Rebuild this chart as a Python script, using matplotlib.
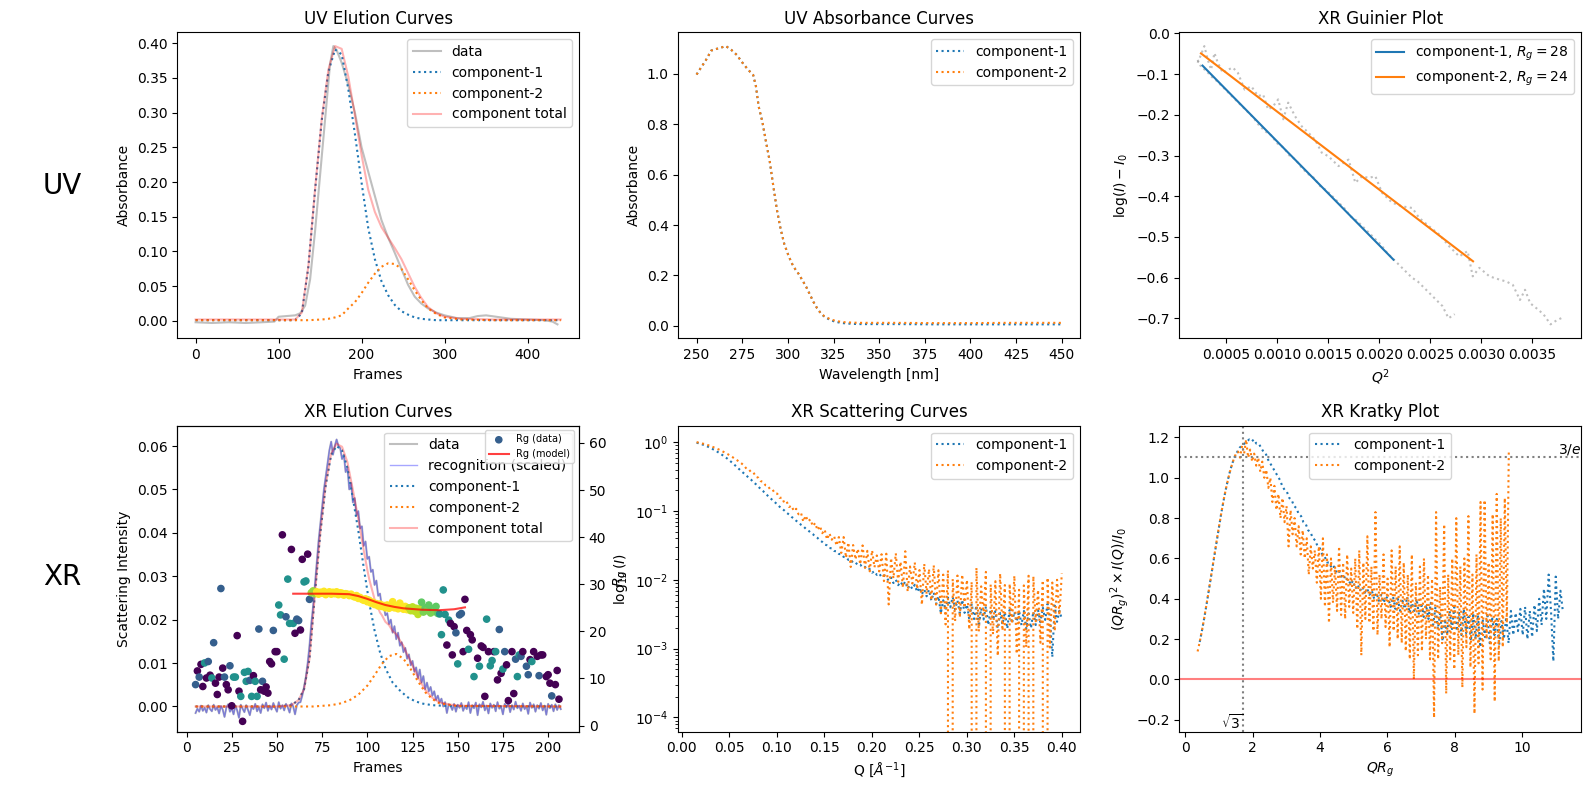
import numpy as np
import matplotlib
matplotlib.use("Agg")
import matplotlib.pyplot as plt

# ---------------- UV elution ----------------
uv_frames = [0, 20, 40, 60, 80, 95, 100, 110, 120, 126, 132, 138, 144, 150, 156, 162, 166, 170,
             176, 184, 192, 200, 208, 216, 224, 232, 240, 248, 256, 264, 272, 280, 290, 300,
             315, 330, 340, 350, 362, 380, 400, 420, 430, 436]
uv_data = [-0.002, -0.003, -0.002, -0.003, -0.002, -0.001, 0.006, 0.007, 0.008, 0.011, 0.022,
           0.06, 0.13, 0.21, 0.29, 0.37, 0.396, 0.39, 0.372, 0.34, 0.30, 0.25, 0.215, 0.18,
           0.145, 0.12, 0.098, 0.075, 0.052, 0.035, 0.025, 0.018, 0.012, 0.008, 0.004, 0.004,
           0.007, 0.008, 0.006, 0.003, 0.002, 0.001, -0.001, -0.005]
uv_comp_frames = [0, 100, 120, 128, 136, 144, 152, 160, 168, 176, 184, 192, 200, 208, 216,
                  224, 232, 240, 248, 256, 264, 272, 280, 290, 300, 320, 360, 440]
uv_comp1 = [0.001, 0.001, 0.001, 0.011, 0.079, 0.189, 0.289, 0.359, 0.391, 0.384, 0.334,
            0.269, 0.199, 0.134, 0.089, 0.057, 0.037, 0.023, 0.014, 0.009, 0.005, 0.003,
            0.002, 0.001, 0.001, 0.001, 0.001, 0.001]
uv_comp2 = [0.001, 0.001, 0.001, 0.001, 0.001, 0.0015, 0.002, 0.003, 0.005, 0.008, 0.018,
            0.027, 0.04, 0.055, 0.068, 0.078, 0.083, 0.082, 0.075, 0.06, 0.044, 0.03,
            0.018, 0.01, 0.005, 0.002, 0.001, 0.001]

# ---------------- UV absorbance ----------------
wavelength = [250, 252, 255, 258, 260, 263, 266, 269, 272, 275, 278, 281, 282.5, 284, 286,
              288, 290, 292, 294, 296, 298, 300, 302, 304, 306, 308, 310, 312, 314, 316, 318,
              320, 323, 326, 330, 335, 340, 350, 360, 380, 400, 420, 450]
abs_comp1 = [0.997, 1.02, 1.053, 1.092, 1.097, 1.103, 1.11, 1.095, 1.075, 1.045, 1.018,
             0.995, 0.95, 0.87, 0.81, 0.73, 0.655, 0.555, 0.46, 0.385, 0.325, 0.285, 0.25,
             0.225, 0.205, 0.18, 0.155, 0.125, 0.095, 0.07, 0.05, 0.036, 0.024, 0.016, 0.011,
             0.008, 0.007, 0.007, 0.007, 0.006, 0.006, 0.006, 0.006]
abs_comp2 = [0.997, 1.02, 1.053, 1.092, 1.097, 1.103, 1.11, 1.095, 1.075, 1.045, 1.018,
             0.995, 0.95, 0.87, 0.81, 0.73, 0.655, 0.555, 0.46, 0.385, 0.325, 0.285, 0.25,
             0.225, 0.205, 0.18, 0.155, 0.125, 0.095, 0.07, 0.05, 0.038, 0.027, 0.02, 0.015,
             0.013, 0.012, 0.012, 0.012, 0.011, 0.011, 0.012, 0.012]

# ---------------- XR Guinier ----------------
guinier_q2_a = [0.00022, 0.00026, 0.0003, 0.00035, 0.0004, 0.00046, 0.00052, 0.00058, 0.00064,
                0.0007, 0.00076, 0.00082, 0.00088, 0.00094, 0.001, 0.00106, 0.00112, 0.00118,
                0.00124, 0.0013, 0.00136, 0.00142, 0.00148, 0.00154, 0.0016, 0.00166, 0.00172,
                0.00178, 0.00184, 0.0019, 0.00196, 0.00202, 0.00208, 0.00214, 0.0022, 0.00226,
                0.00232, 0.00238, 0.00244, 0.0025, 0.00256, 0.00262, 0.00268, 0.00274]
guinier_y_a = [-0.065, -0.085, -0.09, -0.105, -0.115, -0.13, -0.145, -0.16, -0.175, -0.19,
               -0.205, -0.225, -0.24, -0.25, -0.27, -0.28, -0.3, -0.31, -0.33, -0.345, -0.355,
               -0.375, -0.385, -0.4, -0.415, -0.43, -0.45, -0.46, -0.475, -0.49, -0.505, -0.52,
               -0.54, -0.555, -0.57, -0.585, -0.6, -0.61, -0.625, -0.64, -0.655, -0.67, -0.70,
               -0.69]
guinier_q2_b = [0.00022, 0.000254, 0.000286, 0.000319, 0.000352, 0.000385, 0.000418, 0.000467,
                0.000517, 0.000566, 0.000615, 0.000681, 0.000747, 0.000813, 0.000862, 0.000911,
                0.00096, 0.00101, 0.001059, 0.001108, 0.001174, 0.00124, 0.001306, 0.001371,
                0.001437, 0.001503, 0.001601, 0.0017, 0.001766, 0.001832, 0.001897, 0.001963,
                0.002029, 0.002127, 0.002226, 0.002325, 0.002391, 0.002489, 0.002588, 0.002686,
                0.002785, 0.002867, 0.002917, 0.002982, 0.003081, 0.00318, 0.00325, 0.00331,
                0.00338, 0.00343, 0.00348, 0.00354, 0.00361, 0.00368, 0.00374, 0.0038]
guinier_y_b = [-0.072, -0.052, -0.031, -0.064, -0.089, -0.048, -0.072, -0.097, -0.089, -0.084,
               -0.097, -0.138, -0.13, -0.154, -0.15, -0.187, -0.179, -0.162, -0.211, -0.17,
               -0.203, -0.228, -0.244, -0.261, -0.293, -0.302, -0.326, -0.31, -0.367, -0.351,
               -0.355, -0.351, -0.392, -0.416, -0.425, -0.429, -0.453, -0.474, -0.494, -0.523,
               -0.548, -0.535, -0.597, -0.576, -0.597, -0.605, -0.61, -0.618, -0.655, -0.63,
               -0.663, -0.675, -0.69, -0.715, -0.705, -0.698]
fit1_q2 = [0.000268, 0.00214]
fit1_y = [-0.079, -0.556]
fit2_q2 = [0.000253, 0.00292]
fit2_y = [-0.049, -0.56]
rg1, rg2 = 28, 24

# ---------------- XR elution ----------------
xr_data = [  # x 1e-3, frames 5..207
    -1.5, -0.5, -1.2, 0.2, -1.0, -0.3, -1.4, 0.3, -0.6, -1.1,
    0.4, -0.8, -0.2, -1.6, 0.1, -0.7, -2.4, -0.3, 0.5, -1.2,
    -0.4, -1.8, 0.2, -0.9, -2.6, 0.4, -0.5, -1.3, 0.3, -0.8,
    -2.0, 0.0, -0.6, 0.6, -1.1, -0.2, -1.5, 0.5, -0.4, 0.9,
    -1.0, 0.2, -0.7, 0.8, -0.3, -1.2, 1.0, -0.5, 0.3, -0.9,
    0.6, -0.2, -1.4, 0.7, 0.0, -1.8, 0.3, 0.9,
    1.0, 2.5, 4.5, 6.8, 10, 14, 19, 23, 28, 33,
    38, 42, 46, 50, 53, 56, 59, 61, 58, 60,
    61.5, 60, 59.5, 57, 58, 54, 55, 50, 51.5, 47,
    48, 44, 45, 41, 41.5, 37, 38, 34, 34.5, 31,
    31.5, 28, 29, 25.5, 26, 23, 23.5, 21, 21.5, 19,
    20, 17, 18.5, 15.5, 17, 14, 14.8, 12.5, 13.5, 11,
    12, 9.5, 10.5, 8, 9, 6.5, 8.5, 5.5, 7, 4,
    5.5, 3.5, 4.5, 2.5, 3.5, 1.5, 2.5, 1, 1.8, 0,
    1, -1.5, 0.5,
    0.2, -0.8, 0.6, -1.2, 0.4, -0.3, 0.8, -1.0, 0.1, -0.6,
    1.0, -1.5, 0.3, -0.4, 0.9, -2.0, 0.5, -0.2, 1.1, -0.9,
    0.2, -1.6, 0.7, -0.3, 0.4, -1.1, 1.0, -0.5, 0.0, -1.8,
    0.6, -0.2, 0.8, -1.3, 0.3, -0.7, 1.1, -0.4, 0.2, -1.0,
    0.7, -0.6, 0.1, -1.7, 0.9, -0.3, 0.5, -1.2, 0.3, -0.5,
    0.8, -0.9, 0.2, -1.9, 0.6, -0.4, 0.4, -1.1, 0.5, -0.8,
    0.3, -0.6]
xr_c1_frames = [5, 50, 58, 62, 65, 68, 71, 74, 77, 80, 83, 86, 89, 92, 95, 98, 101, 104, 107,
                110, 114, 118, 122, 126, 130, 136, 145, 207]
xr_c1 = [0, 0, 0.0003, 0.0015, 0.004, 0.011, 0.026, 0.04, 0.051, 0.058, 0.06, 0.059, 0.055,
         0.048, 0.0405, 0.032, 0.024, 0.0175, 0.0125, 0.0088, 0.0055, 0.0037, 0.0022, 0.0013,
         0.0007, 0.0003, 0.0001, 0.0]
xr_c2_frames = [5, 70, 80, 85, 90, 95, 100, 104, 108, 112, 116, 120, 124, 128, 132, 136, 140,
                150, 207]
xr_c2 = [0, 0, 0.0003, 0.0007, 0.0014, 0.0027, 0.0048, 0.0072, 0.0098, 0.0116, 0.0121, 0.011,
         0.0086, 0.0058, 0.0033, 0.0017, 0.0007, 0.0001, 0.0]

rg_frames = list(range(5, 140)) + [140, 141, 142, 143, 144, 145, 146, 147, 148, 149, 150, 151,
                                   152, 153, 154, 155, 156, 157, 158, 159, 161, 162, 163, 164,
                                   165, 166, 167, 168, 169, 170, 171, 172, 173, 174, 175, 176,
                                   177, 178, 180, 181, 182, 183, 184, 185, 186, 188, 189, 190,
                                   191, 192, 194, 195, 196, 197, 199, 200, 201, 202, 204, 205,
                                   206]
rg_values = [
    8.7, 11.6, 10.3, 13.0, 8.3, 13.3, 10.1, 13.6, 10.7, 10.1, 17.6, 9.0, 6.6, 10.3, 29.1, 12.2,
    10.3, 8.7, 7.6, 12.7, 4.2, 10.3, 10.3, 19.1, 7.3, 6.2, 0.9, 11.3, 9.4, 11.5, 9.6, 6.2, 10.6,
    9.4, 6.2, 20.5, 7.6, 9.4, 7.3, 8.2, 6.9, 13.6, 13.1, 20.2, 15.7, 15.7, 25.6, 23.5, 40.5,
    14.1, 23.1, 31.1, 21.7, 37.4, 21.7, 19.6, 22.6, 22.3, 20.3, 35.3, 30.5, 30.7, 36.4, 26.8,
    28.2, 28.6, 28.0, 28.4, 27.9, 28.3, 28.1, 28.5, 27.8, 28.2, 28.4, 27.9, 28.3, 28.0, 28.4,
    27.8, 28.2, 28.1, 27.7, 28.0, 27.9, 27.6, 27.9, 27.5, 27.3, 27.6, 27.0, 27.2, 26.8, 26.6,
    26.9, 26.3, 26.6, 26.0, 26.2, 25.7, 25.9, 25.4, 25.8, 25.3, 25.5, 25.0, 25.6, 24.9, 25.3,
    26.3, 25.0, 25.4, 24.8, 26.0, 25.1, 24.7, 25.3, 24.6, 25.0, 24.4, 25.2, 24.3, 24.9, 23.6,
    24.8, 26.2, 24.1, 25.0, 24.4, 25.6, 23.9, 24.8, 24.2, 25.3, 23.8,
    23.7, 19.3, 28.8, 23.6, 17.1, 22.4, 21.7, 15.0, 21.0, 19.7, 13.1, 23.5, 23.8, 15.7, 26.8,
    20.2, 16.2, 19.3, 18.2, 10.4, 14.3, 12.6, 16.9, 16.6, 6.2, 22.6, 15.7, 12.7, 13.8, 15.7,
    15.7, 9.7, 20.4, 11.1, 12.0, 15.7, 12.9, 5.3, 15.7, 6.8, 14.1, 10.4, 15.0, 14.7, 15.7,
    12.6, 10.8, 14.0, 13.6, 15.7, 14.7, 10.6, 15.0, 15.0, 10.4, 10.8, 9.0, 6.3, 8.7, 11.7, 5.6]
rg_colors = [
    0.3, 0, 0.3, 0, 0, 0.5, 0, 0.3, 0, 0.5, 0.3, 0, 0, 0, 0.3, 0, 0.3, 0, 0, 0.3, 0, 0.5, 0.5,
    0, 0, 0.5, 0, 0.5, 0.5, 0.5, 0.3, 0.5, 0, 0.5, 0.5, 0.3, 0, 0.3, 0, 0, 0, 0, 0, 0.3, 0, 0,
    0.5, 0.5, 0, 0.5, 0.3, 0.5, 0.5, 0, 0.5, 0, 0.3, 0.3, 0, 0, 0.5, 0.5, 0, 0.3,
    0.85, 0.85, 0.85] + [1.0] * 51 + [0.9] * 7 + [0.75, 0.8, 0.75, 0.8, 0.75, 0.8, 0.75, 0.8,
                                                 0.75, 0.75] + [
    0.5, 0.5, 0.5, 0.5, 0, 0.5, 0, 0, 0, 0.3, 0.5, 0.3, 0.3, 0, 0, 0, 0.5, 0, 0, 0.5, 0, 0.5,
    0, 0, 0, 0.5, 0, 0.5, 0.5, 0, 0.5, 0, 0.3, 0, 0.5, 0.3, 0, 0, 0, 0, 0.3, 0.5, 0.5, 0.3, 0,
    0.3, 0.3, 0, 0.5, 0, 0, 0.3, 0, 0, 0, 0, 0, 0.3, 0, 0, 0]
rg_model_frames = [59, 70, 80, 90, 95, 100, 105, 110, 115, 120, 130, 140, 148, 154]
rg_model = [28, 28, 28, 27.9, 27.5, 26.9, 26.2, 25.6, 25.2, 24.9, 24.6, 24.5, 24.7, 25.1]

# ---------------- XR scattering / Kratky ----------------
kratky_c1 = [
    0.186, 0.245, 0.31, 0.379, 0.452, 0.526, 0.60, 0.674, 0.746, 0.815, 0.879, 0.939, 0.992,
    1.04, 1.077, 1.11, 1.13, 1.15, 1.16,
    1.17, 1.18, 1.19, 1.18, 1.19, 1.17, 1.17, 1.15, 1.13, 1.12, 1.09,
    1.07, 1.05, 1.03, 1.01, 0.99, 0.96, 0.94,
    0.93, 0.90, 0.89, 0.86, 0.85, 0.82, 0.81, 0.78, 0.77, 0.74, 0.73, 0.70, 0.69, 0.66, 0.65,
    0.62, 0.61, 0.58, 0.58, 0.55, 0.56, 0.53, 0.54, 0.51, 0.52, 0.49, 0.50, 0.47, 0.49, 0.45,
    0.47, 0.44, 0.46, 0.43, 0.45, 0.42, 0.44, 0.40, 0.43, 0.39, 0.42, 0.38, 0.41,
    0.40, 0.36, 0.41, 0.35, 0.40, 0.34, 0.39, 0.35, 0.41, 0.33,
    0.38, 0.34, 0.40, 0.32, 0.38, 0.31, 0.37, 0.30, 0.38, 0.27,
    0.36, 0.25, 0.33, 0.19, 0.30, 0.22, 0.34, 0.25, 0.36, 0.24,
    0.33, 0.22, 0.35, 0.23, 0.31, 0.19, 0.33, 0.20, 0.32, 0.16,
    0.30, 0.21, 0.33, 0.18, 0.31, 0.22, 0.30, 0.17, 0.29, 0.20,
    0.31, 0.18, 0.34, 0.22, 0.33, 0.24, 0.35, 0.22, 0.36, 0.20,
    0.34, 0.21, 0.37, 0.24, 0.40, 0.27, 0.45, 0.30, 0.52, 0.34,
    0.09, 0.51, 0.30, 0.44, 0.34]
kratky_c2 = [
    0.139, 0.184, 0.235, 0.289, 0.347, 0.408, 0.47, 0.534, 0.598, 0.662, 0.724, 0.784, 0.841,
    0.896, 0.945, 0.99, 1.03, 1.066, 1.096, 1.12,
    1.13, 1.10, 1.16, 1.12, 1.19, 1.10, 1.14, 1.08, 1.12, 1.06, 1.10, 1.03, 1.08, 1.00, 1.04,
    0.95, 1.00, 0.88, 0.96, 0.84,
    0.92, 0.80, 0.90, 0.78, 0.86, 0.66, 0.84, 0.72, 0.80, 0.66, 0.76, 0.62, 0.74, 0.60, 0.70,
    0.52, 0.66, 0.55, 0.64, 0.48,
    0.66, 0.40, 0.70, 0.36, 0.62, 0.28, 0.60, 0.38, 0.56, 0.34, 0.66, 0.32, 0.58, 0.30, 0.62,
    0.36, 0.55, 0.33, 0.60, 0.25,
    0.64, 0.12, 0.58, 0.30, 0.71, 0.28, 0.56, 0.24, 0.83, 0.22, 0.52, 0.30, 0.62, 0.26, 0.50,
    0.16, 0.64, 0.24, 0.56, 0.20,
    0.66, 0.18, 0.58, 0.14, 0.52, 0.10, 0.62, 0.00, 0.48, 0.12, 0.56, 0.14, 0.60, 0.20, 0.52,
    0.10, 0.50, -0.19, 0.83, 0.10,
    0.46, 0.18, 0.77, -0.07, 0.52, 0.10, 0.60, 0.05, 0.80, 0.12, 0.56, -0.04, 0.60, 0.16, 0.81,
    0.06, 0.52, -0.17, 0.62, 0.08,
    0.88, -0.05, 0.89, 0.20, 0.58, 0.10, 0.82, -0.11, 0.92, 0.09, 0.80, 0.16, 0.90, 0.28, 1.14]
q_min, q_max = 0.0155, 0.4

# ---------------- figure ----------------
fig = plt.figure(figsize=(15.89, 7.9), dpi=100)
lefts = [0.1116, 0.4269, 0.7422]
w, h = 0.2528, 0.3875
ax_uv_el = fig.add_axes([lefts[0], 0.5718, w, h])
ax_uv_abs = fig.add_axes([lefts[1], 0.5718, w, h])
ax_guin = fig.add_axes([lefts[2], 0.5718, w, h])
ax_xr_el = fig.add_axes([lefts[0], 0.0738, w, h])
ax_xr_sc = fig.add_axes([lefts[1], 0.0738, w, h])
ax_krat = fig.add_axes([lefts[2], 0.0738, w, h])

fig.text(0.039, 0.765, "UV", fontsize=20, ha="center", va="center")
fig.text(0.039, 0.270, "XR", fontsize=20, ha="center", va="center")

# UV elution
ax = ax_uv_el
c1 = np.array(uv_comp1)
c2 = np.array(uv_comp2)
ax.plot(uv_frames, uv_data, color="gray", alpha=0.5, label="data")
ax.plot(uv_comp_frames, c1, ":", label="component-1")
ax.plot(uv_comp_frames, c2, ":", label="component-2")
ax.plot(uv_comp_frames, c1 + c2, color="red", alpha=0.3, label="component total")
ax.set_title("UV Elution Curves")
ax.set_xlabel("Frames")
ax.set_ylabel("Absorbance")
ax.legend(loc="upper right")

# UV absorbance
ax = ax_uv_abs
ax.plot(wavelength, abs_comp1, ":", label="component-1")
ax.plot(wavelength, abs_comp2, ":", label="component-2")
ax.set_title("UV Absorbance Curves")
ax.set_xlabel("Wavelength [nm]")
ax.set_ylabel("Absorbance")
ax.legend(loc="upper right")

# Guinier
ax = ax_guin
ax.plot(guinier_q2_a, guinier_y_a, ":", color="gray", alpha=0.5)
ax.plot(guinier_q2_b, guinier_y_b, ":", color="gray", alpha=0.5)
ax.plot(fit1_q2, fit1_y, label="component-1, $R_g=%d$" % rg1)
ax.plot(fit2_q2, fit2_y, label="component-2, $R_g=%d$" % rg2)
ax.set_title("XR Guinier Plot")
ax.set_xlabel("$Q^2$")
ax.set_ylabel("$\\log(I) - I_0$")
ax.legend(loc="upper right")

# XR elution
ax = ax_xr_el
xr_y = np.array(xr_data) * 1e-3
xr_frames = np.arange(5, 5 + len(xr_y))
tot_frames = np.arange(5, 208)
tot = np.interp(tot_frames, xr_c1_frames, xr_c1) + np.interp(tot_frames, xr_c2_frames, xr_c2)
ax.plot(xr_frames, xr_y, color="gray", alpha=0.5, label="data")
ax.plot(xr_frames, xr_y, color="blue", alpha=0.35, lw=1, label="recognition (scaled)")
ax.plot(xr_c1_frames, xr_c1, ":", label="component-1")
ax.plot(xr_c2_frames, xr_c2, ":", label="component-2")
ax.plot(tot_frames, tot, color="red", alpha=0.3, label="component total")
ax.set_title("XR Elution Curves")
ax.set_xlabel("Frames")
ax.set_ylabel("Scattering Intensity")
ax.legend(loc="upper right")

ax2 = ax.twinx()
n = min(len(rg_frames), len(rg_values), len(rg_colors))
ax2.scatter(rg_frames[:n], rg_values[:n], c=rg_colors[:n], cmap="viridis", vmin=0, vmax=1,
            s=20, label="Rg (data)")
ax2.plot(rg_model_frames, rg_model, color="red", alpha=0.75, label="Rg (model)")
ax2.set_ylim(-1.3, 63.7)
ax2.set_ylabel("$R_g$")
ax2.legend(loc="upper right", fontsize=7)

# XR scattering
q = np.linspace(q_min, q_max, len(kratky_c1))
q2 = np.linspace(q_min, q_max, len(kratky_c2))
i1 = np.array(kratky_c1) / (q * rg1) ** 2
i2 = np.array(kratky_c2) / (q2 * rg2) ** 2
ax = ax_xr_sc
ax.plot(q, i1, ":", label="component-1")
ax.plot(q2, i2, ":", label="component-2")
ax.set_yscale("log")
ax.set_ylim(6.2e-5, 1.75)
ax.set_title("XR Scattering Curves")
ax.set_xlabel("Q [$\\AA^{-1}$]")
ax.set_ylabel("$\\log_{10}(I)$")
ax.legend(loc="upper right")

# Kratky
ax = ax_krat
ax.plot(q * rg1, kratky_c1, ":", label="component-1")
ax.plot(q2 * rg2, kratky_c2, ":", label="component-2")
ax.axhline(0, color="red", alpha=0.5)
ax.axhline(3 / np.e, color="gray", ls=":")
ax.axvline(np.sqrt(3), color="gray", ls=":")
ax.set_title("XR Kratky Plot")
ax.set_xlabel("$QR_g$")
ax.set_ylabel("$(QR_g)^2 \\times I(Q)/I_0$")
ax.legend(loc="upper center")
xmin, xmax = ax.get_xlim()
ymin, ymax = ax.get_ylim()
ax.text(xmax, 3 / np.e, "$3/e$", ha="right", va="bottom")
ax.text(np.sqrt(3), ymin, "$\\sqrt{3}$", ha="right", va="bottom")

fig.savefig("out.png", dpi=100)
